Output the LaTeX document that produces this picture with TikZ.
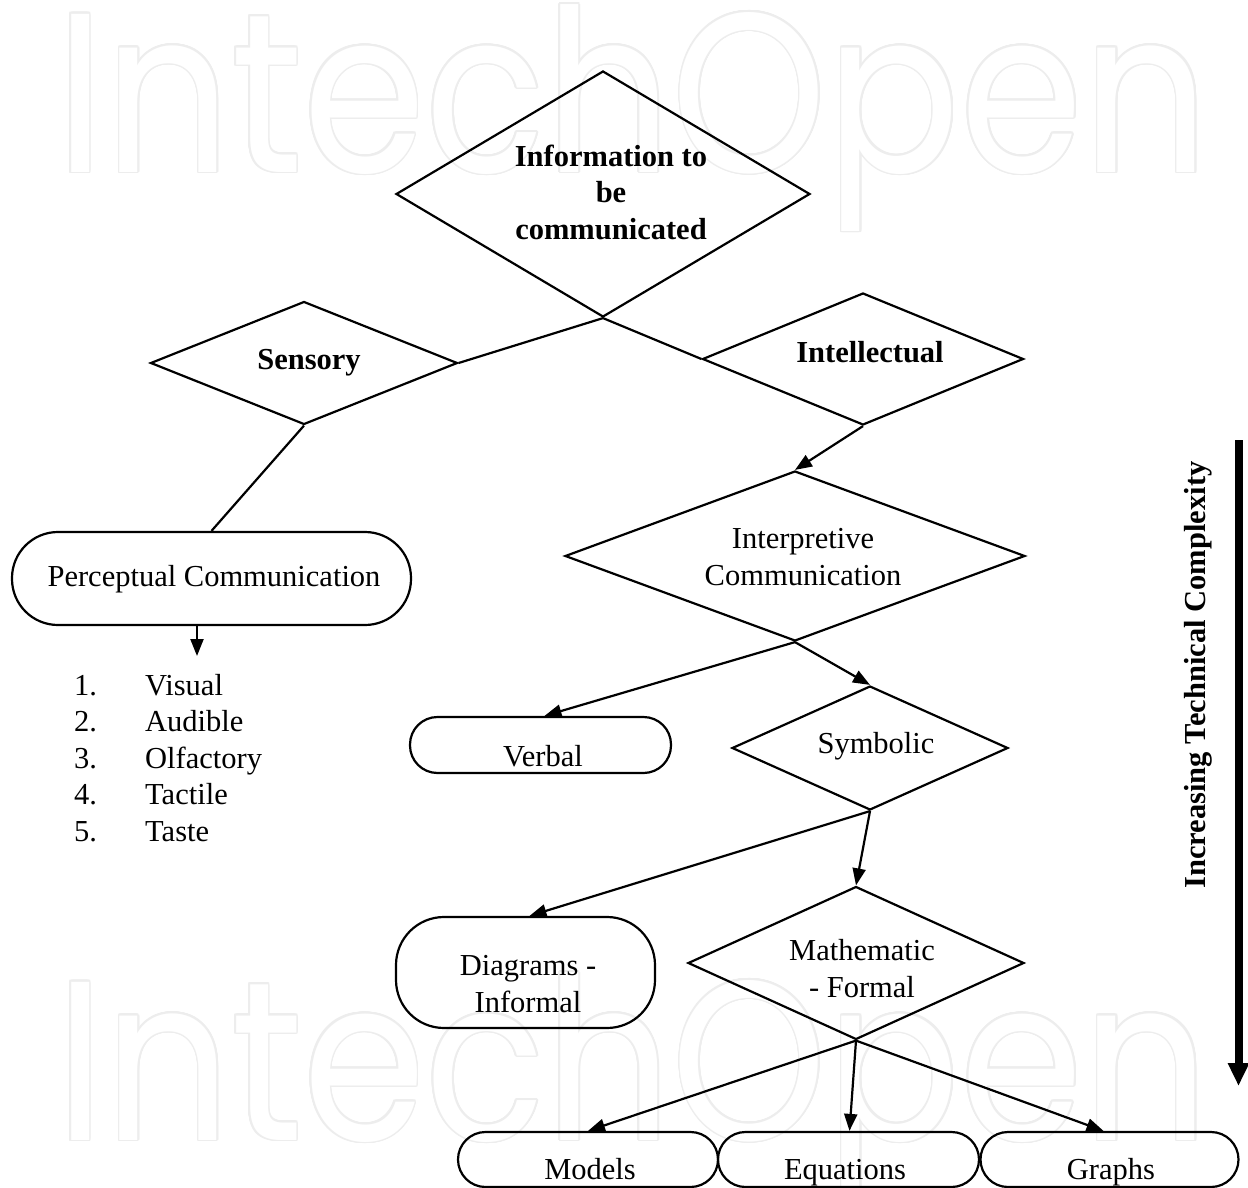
\documentclass[tikz,border=0pt]{standalone}
\usepackage{fontspec}
\setmainfont{Liberation Serif}
\newfontfamily\wmfont{Poppins}
\usetikzlibrary{shapes.geometric,arrows.meta,calc}
\begin{document}
\begin{tikzpicture}[x=1pt,y=-1pt,
  txt/.style={inner sep=0pt, font=\fontsize{30.5}{36.6}\selectfont, align=center},
  txtb/.style={txt, font=\fontsize{30.5}{36.2}\selectfont\bfseries},
  dia/.style={draw, diamond, inner sep=0pt, line width=2.2pt},
  stad/.style={draw, rectangle, rounded corners=#1, inner sep=0pt, line width=2.2pt},
  ln/.style={line width=2.2pt},
  arr/.style={line width=2.2pt, -{Triangle[length=17pt,width=13pt]}},
  bigarr/.style={line width=8pt, -{Triangle[length=23pt,width=20pt]}},
  wm/.style={inner sep=0pt, anchor=base west, xscale=0.87, font=\wmfont\fontsize{227}{227}\selectfont}
]
\useasboundingbox (0,0) rectangle (1248,1188);
\fill[white] (0,0) rectangle (1248,1188);

% watermark (outlined letters)
\foreach \yy in {172,1140}{
  \foreach \a in {0,22.5,...,337.5}{
    \node[wm, text=black!7] at ($(56,\yy)+(\a:1.7)$) {IntechOpen};
  }
  \node[wm, text=white] at (56,\yy) {IntechOpen};
}

% shapes
\node[dia, minimum width=414pt, minimum height=246pt] (info) at (603,194) {};
\node[dia, minimum width=307pt, minimum height=123pt] (sens) at (304,363) {};
\node[dia, minimum width=321pt, minimum height=132pt] (intel) at (863,359) {};
\node[dia, minimum width=460pt, minimum height=170pt] (inter) at (795,556) {};
\node[dia, minimum width=276pt, minimum height=124pt] (symb) at (870,748) {};
\node[dia, minimum width=336pt, minimum height=153pt] (math) at (856,963) {};

\node[stad=46pt, minimum width=399pt, minimum height=93pt] (perc) at (211.5,578.5) {};
\node[stad=27.5pt, minimum width=261pt, minimum height=56pt] (verbal) at (540.5,745) {};
\node[stad=48pt, minimum width=259pt, minimum height=111pt] (diag) at (525.5,972.5) {};
\node[stad=27.5pt, minimum width=260pt, minimum height=55pt] (models) at (588,1159.5) {};
\node[stad=27.5pt, minimum width=261pt, minimum height=55pt] (equat) at (848.5,1159.5) {};
\node[stad=27.5pt, minimum width=258pt, minimum height=55pt] (graphs) at (1109.5,1159.5) {};

% texts (multi-line nodes: base = baseline of the last line)
\node[txtb, anchor=base] (infot) at (611,239) {Information to\\be\\communicated};
\node[txtb, anchor=base] (senst) at (309,369) {Sensory};
\node[txtb, anchor=base] (intelt) at (870,362) {Intellectual};
\node[txt, anchor=base] (intert) at (803,585) {Interpretive\\Communication};
\node[txt, anchor=base] (perct) at (214,586) {Perceptual Communication};
\node[txt, anchor=base] (verbalt) at (543,766) {Verbal};
\node[txt, anchor=base] (symbt) at (876,753) {Symbolic};
\node[txt, anchor=base] (diagt) at (528,1012) {Diagrams -\\Informal};
\node[txt, anchor=base] (matht) at (862,997) {Mathematic\\- Formal};
\node[txt, anchor=base] (modelst) at (590,1179) {Models};
\node[txt, anchor=base] (equatt) at (845,1179) {Equations};
\node[txt, anchor=base] (graphst) at (1111,1179) {Graphs};

% list
\foreach \i/\w in {1/Visual,2/Audible,3/Olfactory,4/Tactile,5/Taste}{
  \node[txt, anchor=base west] (num\i) at (74,{695+36.6*(\i-1)}) {\i.};
  \node[txt, anchor=base west] (item\i) at (145,{695+36.6*(\i-1)}) {\w};
}

\node[txtb, rotate=90, anchor=base] (cplx) at (1205,675) {Increasing Technical Complexity};

% connectors
\draw[ln] (info.south) -- (sens.east);
\draw[ln] (info.south) -- (intel.west);
\draw[ln] (sens.south) -- (perc.north);
\draw[arr] (intel.south) -- (inter.north);
\draw[arr] (inter.south) -- ([xshift=4pt]verbal.north);
\draw[arr] (inter.south) -- (symb.north);
\draw[arr] (symb.south) -- ([xshift=4pt]diag.north);
\draw[arr] (symb.south) -- (math.north);
\draw[arr] (math.south) -- (models.north);
\draw[arr] (math.south) -- ([xshift=1pt]equat.north);
\draw[arr] (math.south) -- ([xshift=-6pt]graphs.north);

\coordinate (listtop) at (197,656);
\draw[arr] (perc.south -| listtop) -- (listtop);

\coordinate (cxtop) at (1238.5,440);
\coordinate (cxbot) at (1238.5,1086);
\draw[bigarr] (cxtop) -- (cxbot);
\end{tikzpicture}
\end{document}
